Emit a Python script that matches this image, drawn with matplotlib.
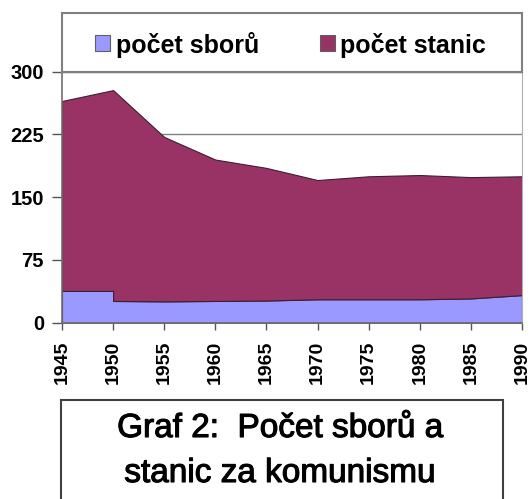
import matplotlib
matplotlib.use("Agg")
import matplotlib.pyplot as plt
from matplotlib.patches import Rectangle
import matplotlib.patheffects as pe

# data
roky = [1945, 1950, 1950, 1955, 1960, 1965, 1970, 1975, 1980, 1985, 1990]
pocet_sboru = [38, 38, 26, 25.5, 26, 26.5, 28, 28, 28, 29, 33]
pocet_stanic = [227, 240, 252, 196.5, 169, 158.5, 142.5, 147, 148.5, 145, 142]
x_ticks = [1945, 1950, 1955, 1960, 1965, 1970, 1975, 1980, 1985, 1990]
y_ticks = [0, 75, 150, 225, 300]
serie = ["počet sborů", "počet stanic"]
barvy = ["#9999FF", "#993366"]
nadpis = ["Graf 2:  Počet sborů a", "stanic za komunismu"]

plt.rcParams['font.family'] = ['Liberation Sans', 'DejaVu Sans']

W, H = 531, 499
fig = plt.figure(figsize=(W / 100, H / 100), dpi=100)

def fx(px):
    return px / W

def fy(py):
    return 1 - py / H

L, R, T, B = 62, 522, 71.7, 322.7
ax = fig.add_axes([fx(L), fy(B), fx(R) - fx(L), fy(T) - fy(B)])
ax.stackplot(roky, pocet_sboru, pocet_stanic, colors=barvy,
             edgecolor="#3a2030", linewidth=0.8, zorder=2)
ax.set_xlim(1945, 1990)
ax.set_ylim(0, 300)
ax.set_xticks(x_ticks)
ax.set_xticklabels([str(v) for v in x_ticks], rotation=90,
                   fontsize=14, fontweight='bold')
ax.set_yticks(y_ticks)
ax.set_yticklabels([str(v) for v in y_ticks], fontsize=14.5, fontweight='bold')
ax.tick_params(axis='y', length=7, width=1, color="#555555", pad=6)
ax.tick_params(axis='x', length=5, width=1, color="#555555", pad=8)
ax.yaxis.grid(True, color="#808080", linewidth=1, zorder=0)
ax.set_axisbelow(True)
for s in ['left', 'bottom']:
    ax.spines[s].set_color("#707070")
    ax.spines[s].set_linewidth(1.2)
ax.spines['right'].set_color("#b0b0b0")
ax.spines['top'].set_color("#808080")

# legend box
fig.patches.append(Rectangle((fx(L), fy(T)), fx(R) - fx(L), fy(13) - fy(T),
                             transform=fig.transFigure, fill=False,
                             edgecolor="#808080", linewidth=1.5))
leg_marker_x = [95, 320]
leg_text_x = [116, 340]
for mx, tx, lab, c in zip(leg_marker_x, leg_text_x, serie, barvy):
    fig.patches.append(Rectangle((fx(mx), fy(50.5)), fx(15), 15 / H,
                                 transform=fig.transFigure, facecolor=c,
                                 edgecolor="#606060", linewidth=0.8))
    fig.text(fx(tx), fy(43), lab, fontsize=18, fontweight='bold',
             ha='left', va='center_baseline')

# title box
fig.patches.append(Rectangle((fx(61), fy(510)), fx(503) - fx(61), fy(400) - fy(510),
                             transform=fig.transFigure, fill=False,
                             edgecolor="#404040", linewidth=1.5, clip_on=False))
stroke = [pe.withStroke(linewidth=0.8, foreground='black')]
fig.text(fx(280), fy(437), nadpis[0], fontsize=24, ha='center', va='baseline',
         path_effects=stroke)
fig.text(fx(280), fy(482), nadpis[1], fontsize=24, ha='center', va='baseline',
         path_effects=stroke)

fig.savefig("out.png", dpi=100, facecolor="white")
